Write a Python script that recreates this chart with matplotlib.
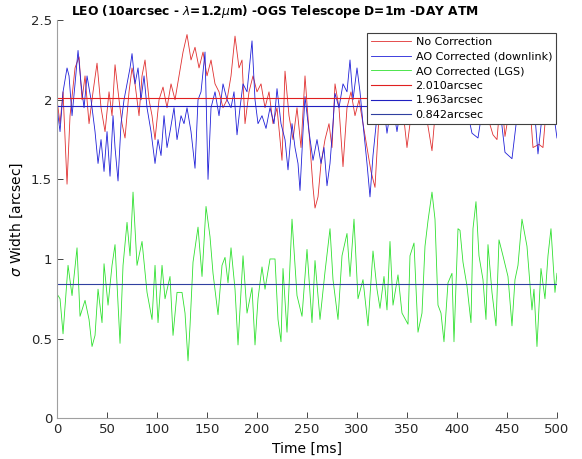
#import libraries
import numpy as np
import matplotlib
matplotlib.use("Agg")
import matplotlib.pyplot as plt

#values (time in ms, width in arcsec)
t_nocorr = [0, 3, 6, 10, 13, 18, 22, 25, 28, 32, 36, 40, 44, 48, 52, 55, 58, 62, 65, 68,
            72, 75, 78, 82, 85, 88, 92, 95, 98, 102, 106, 110, 114, 118, 122, 126, 130, 134, 138, 142,
            146, 150, 154, 158, 162, 166, 170, 174, 178, 182, 185, 188, 192, 196, 200, 204, 208, 212, 216, 220,
            225, 228, 232, 236, 240, 244, 248, 252, 256, 258, 261, 264, 268, 272, 275, 278, 282, 286, 290, 294,
            298, 302, 306, 310, 314, 318, 322, 326, 332, 338, 344, 350, 356, 362, 368, 375, 380, 386, 392, 398,
            404, 410, 416, 422, 428, 436, 440, 444, 448, 454, 460, 466, 472, 476, 482, 486, 490, 494, 497, 500]
w_nocorr = [2.00, 1.85, 2.05, 1.47, 1.90, 2.20, 2.27, 2.00, 2.15, 1.85, 2.05, 2.23, 1.95, 1.80, 2.05, 1.90, 2.22, 2.00, 1.85, 1.76,
            2.05, 2.20, 2.10, 1.90, 2.15, 2.25, 2.00, 1.90, 1.75, 2.00, 2.08, 1.95, 2.10, 2.00, 2.15, 2.30, 2.41, 2.25, 2.33, 2.20,
            2.30, 2.15, 2.25, 2.10, 2.05, 1.95, 2.00, 2.15, 2.40, 2.20, 2.25, 1.85, 2.05, 2.15, 2.05, 2.10, 1.95, 2.05, 1.85, 1.95,
            1.62, 2.18, 1.90, 1.75, 1.95, 1.70, 2.15, 1.80, 1.45, 1.32, 1.39, 1.60, 1.75, 1.85, 1.70, 2.10, 1.95, 1.58, 1.95, 2.05,
            1.90, 2.00, 1.85, 1.70, 1.55, 1.45, 1.90, 2.00, 2.10, 1.95, 2.05, 1.70, 2.00, 2.10, 1.95, 1.68, 2.05, 1.95, 2.10, 2.00,
            2.05, 1.95, 2.10, 2.00, 1.95, 1.78, 1.75, 2.05, 1.77, 2.00, 2.10, 1.95, 2.05, 1.70, 1.72, 1.70, 2.00, 2.10, 1.95, 2.05]

t_down = [0, 3, 6, 10, 12, 15, 18, 21, 24, 27, 30, 34, 38, 41, 44, 47, 50, 53, 56, 58,
          61, 64, 67, 70, 73, 75, 78, 81, 84, 87, 90, 94, 98, 101, 104, 107, 110, 113, 117, 120,
          124, 127, 130, 134, 138, 141, 144, 148, 151, 154, 158, 162, 166, 170, 174, 177, 180, 183, 186, 190,
          195, 198, 201, 205, 209, 213, 217, 220, 224, 228, 231, 235, 238, 241, 243, 246, 248, 252, 256, 260,
          264, 267, 270, 273, 276, 278, 282, 286, 290, 293, 296, 300, 303, 306, 310, 313, 316, 320, 325, 330,
          335, 340, 346, 352, 360, 368, 376, 384, 392, 400, 408, 415, 421, 428, 436, 442, 448, 455, 462, 470,
          476, 481, 486, 490, 494, 497, 500]
w_down = [1.95, 1.80, 2.05, 2.20, 2.15, 1.90, 2.10, 2.31, 2.10, 1.95, 2.15, 2.00, 1.80, 1.60, 1.75, 1.55, 1.80, 1.52, 1.90, 1.70,
          1.49, 1.85, 2.00, 2.10, 2.20, 2.29, 2.10, 2.20, 2.00, 2.15, 1.95, 1.80, 1.60, 1.75, 1.65, 1.90, 1.70, 1.80, 1.95, 1.75,
          1.90, 1.85, 1.95, 1.80, 1.57, 2.00, 2.05, 2.30, 1.50, 1.95, 2.05, 1.90, 2.10, 2.00, 1.95, 2.05, 1.78, 1.95, 2.10, 2.05,
          2.37, 2.00, 1.85, 1.90, 1.82, 1.95, 1.85, 2.07, 1.85, 1.75, 1.56, 1.85, 1.70, 1.60, 1.43, 1.80, 2.02, 1.80, 1.62, 1.75,
          1.60, 1.70, 1.46, 1.60, 1.85, 2.04, 1.95, 2.10, 2.05, 2.25, 2.00, 2.20, 2.05, 1.85, 1.60, 1.39, 1.65, 1.90, 2.05, 1.79,
          2.00, 1.80, 2.05, 1.95, 2.10, 1.90, 2.00, 1.95, 2.05, 1.90, 2.00, 1.79, 1.76, 2.05, 1.95, 2.00, 1.67, 1.63, 2.00, 1.90,
          2.05, 1.66, 1.95, 2.00, 2.17, 1.90, 1.76]

t_lgs = [0, 3, 6, 11, 15, 20, 23, 28, 32, 35, 38, 41, 45, 47, 51, 55, 58, 63, 66, 70,
         73, 76, 80, 85, 90, 95, 98, 101, 105, 108, 113, 116, 120, 125, 128, 131, 133, 136, 141, 145,
         149, 153, 156, 161, 165, 168, 171, 174, 178, 181, 186, 190, 195, 198, 201, 205, 208, 213, 218, 221,
         224, 226, 230, 235, 240, 245, 250, 255, 258, 263, 268, 273, 276, 281, 285, 290, 293, 297, 301, 306,
         311, 316, 320, 323, 327, 330, 333, 336, 341, 345, 351, 353, 357, 361, 365, 368, 371, 375, 378, 381,
         384, 387, 391, 395, 397, 401, 403, 406, 410, 414, 416, 419, 422, 426, 429, 431, 435, 439, 442, 446,
         451, 455, 458, 461, 465, 470, 475, 477, 480, 484, 488, 491, 494, 498, 500]
w_lgs = [0.78, 0.75, 0.53, 0.96, 0.77, 1.07, 0.64, 0.74, 0.62, 0.45, 0.52, 0.81, 0.60, 0.97, 0.71, 0.96, 1.09, 0.47, 0.96, 1.23,
         1.02, 1.42, 0.96, 1.11, 0.79, 0.62, 0.96, 0.60, 0.96, 0.75, 0.89, 0.52, 0.79, 0.79, 0.66, 0.36, 0.58, 0.98, 1.20, 0.89,
         1.33, 1.14, 0.91, 0.65, 0.96, 1.01, 0.85, 1.07, 0.81, 0.46, 1.02, 0.66, 0.82, 0.46, 0.75, 0.95, 0.81, 1.00, 1.00, 0.62,
         0.48, 0.94, 0.54, 1.25, 0.77, 0.64, 1.06, 0.60, 0.99, 0.62, 0.92, 1.19, 0.87, 0.62, 1.02, 1.16, 0.89, 1.25, 0.75, 0.87,
         0.58, 1.05, 0.81, 0.69, 0.89, 0.68, 1.11, 0.71, 0.90, 0.66, 0.59, 1.02, 1.10, 0.54, 0.66, 1.08, 1.24, 1.42, 1.25, 0.71,
         0.66, 0.48, 0.85, 0.91, 0.48, 1.19, 1.18, 0.98, 0.83, 0.60, 1.19, 1.36, 1.02, 0.87, 0.62, 1.09, 0.79, 0.58, 1.12, 1.02,
         0.89, 0.58, 0.87, 0.96, 1.25, 1.08, 0.68, 0.81, 0.45, 0.94, 0.75, 1.02, 1.19, 0.79, 0.91]

mean_vals = [2.010, 1.963, 0.842]
mean_labels = ['2.010arcsec', '1.963arcsec', '0.842arcsec']
series_labels = ['No Correction', 'AO Corrected (downlink)', 'AO Corrected (LGS)']

#create figure
fig = plt.figure(figsize=(5.82, 4.59), dpi=100)
ax = fig.add_axes([0.098, 0.089, 0.859, 0.867])

ax.plot(t_nocorr, w_nocorr, color='#e03030', lw=0.6, label=series_labels[0])
ax.plot(t_down, w_down, color='#2020d8', lw=0.6, label=series_labels[1])
ax.plot(t_lgs, w_lgs, color='#30e030', lw=0.6, label=series_labels[2])

#horizontal mean lines
ax.plot([0, 500], [mean_vals[0]] * 2, color='#e02020', lw=0.8, label=mean_labels[0])
ax.plot([0, 500], [mean_vals[1]] * 2, color='#2020c0', lw=0.8, label=mean_labels[1])
ax.plot([0, 500], [mean_vals[2]] * 2, color='#3040a0', lw=0.8, label=mean_labels[2])

ax.set_xlim(0, 500)
ax.set_ylim(0, 2.5)
ax.set_xticks(np.arange(0, 501, 50))
ax.set_yticks([0, 0.5, 1, 1.5, 2, 2.5])
ax.set_yticklabels(['0', '0.5', '1', '1.5', '2', '2.5'])
ax.tick_params(direction='in', length=4, labelsize=9.5, colors='#262626', width=0.6)
for s in ['top', 'right']:
    ax.spines[s].set_visible(False)
for s in ['left', 'bottom']:
    ax.spines[s].set_color('#a0a0a0')
    ax.spines[s].set_linewidth(0.8)

#title sits a bit left of the axes centre in the reference
fig.text(0.4725, 0.974, r'LEO (10arcsec - $\lambda$=1.2$\mu$m) -OGS Telescope D=1m -DAY ATM',
         fontsize=8.8, fontweight='bold', ha='center', va='center')
ax.set_xlabel('Time [ms]', fontsize=10)
ax.set_ylabel(r'$\sigma$ Width [arcsec]', fontsize=10)

leg = ax.legend(loc='upper right', bbox_to_anchor=(0.998, 0.968), fontsize=8,
                fancybox=False, framealpha=1, edgecolor='#404040',
                handlelength=3.6, borderpad=0.35, labelspacing=0.42, handletextpad=0.4,
                borderaxespad=0)
leg.get_frame().set_linewidth(0.8)

plt.savefig('out.png', dpi=100)
